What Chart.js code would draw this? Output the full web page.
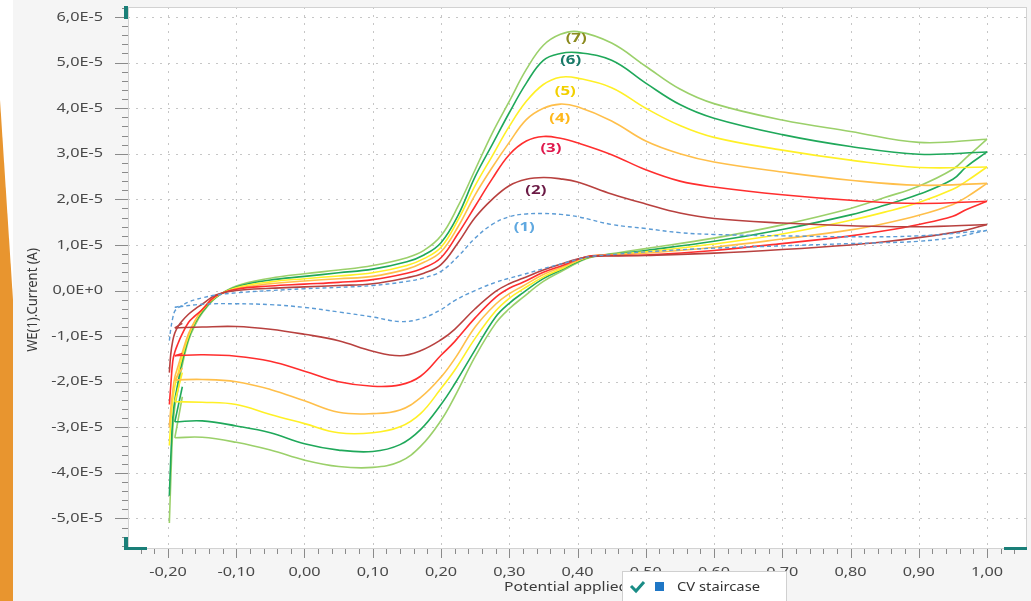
<!DOCTYPE html>
<html>
<head>
<meta charset="utf-8">
<title>CV staircase</title>
<script src="https://cdn.jsdelivr.net/npm/chart.js@4.4.0/dist/chart.umd.min.js"></script>
<style>
  html, body { margin: 0; padding: 0; background: #f5f5f5; }
  #wrap { position: relative; width: 1031px; height: 601px; }
</style>
</head>
<body>
<div id="wrap"><canvas id="cv" width="1031" height="601"></canvas></div>
<script>
// potential (V) on the forward scan, shared by all 7 curves
const fwdX = [-0.198, -0.196, -0.193, -0.19, -0.185, -0.18, -0.17, -0.16, -0.15, -0.13, -0.1, -0.05, 0, 0.05, 0.1, 0.15, 0.175, 0.2, 0.225, 0.25, 0.275, 0.3, 0.325, 0.35, 0.375, 0.4, 0.45, 0.5, 0.55, 0.6, 0.7, 0.8, 0.9, 1.0];
// current in units of 1E-5 A
const fwd1 = [-1.1, -0.85, -0.6, -0.45, -0.38, -0.33, -0.25, -0.2, -0.16, -0.1, -0.05, 0.0, 0.04, 0.07, 0.11, 0.2, 0.28, 0.42, 0.75, 1.15, 1.45, 1.62, 1.68, 1.69, 1.67, 1.62, 1.45, 1.36, 1.27, 1.23, 1.2, 1.18, 1.2, 1.32];
const fwd2 = [-1.8, -1.4, -1.1, -0.93, -0.78, -0.68, -0.52, -0.4, -0.3, -0.1, 0.0, 0.05, 0.08, 0.11, 0.15, 0.28, 0.38, 0.57, 1.05, 1.6, 2.0, 2.3, 2.44, 2.48, 2.45, 2.38, 2.12, 1.9, 1.7, 1.58, 1.48, 1.42, 1.4, 1.45];
const fwd3 = [-2.5, -2.1, -1.55, -1.35, -1.15, -0.98, -0.7, -0.55, -0.42, -0.12, 0.03, 0.1, 0.14, 0.18, 0.24, 0.38, 0.5, 0.72, 1.25, 1.85, 2.45, 2.98, 3.28, 3.38, 3.34, 3.24, 2.98, 2.65, 2.4, 2.27, 2.1, 1.98, 1.91, 1.96];
const fwd4 = [-3.0, -2.6, -2.2, -1.9, -1.65, -1.4, -0.95, -0.65, -0.42, -0.13, 0.04, 0.15, 0.21, 0.26, 0.31, 0.47, 0.62, 0.85, 1.4, 2.1, 2.7, 3.25, 3.75, 4.0, 4.09, 4.03, 3.72, 3.28, 3.0, 2.82, 2.6, 2.42, 2.31, 2.35];
const fwd5 = [-3.4, -2.9, -2.4, -2.1, -1.8, -1.5, -1.0, -0.67, -0.44, -0.14, 0.06, 0.19, 0.26, 0.32, 0.39, 0.55, 0.7, 0.95, 1.55, 2.3, 2.95, 3.6, 4.15, 4.52, 4.68, 4.66, 4.45, 4.0, 3.62, 3.36, 3.08, 2.86, 2.7, 2.71];
const fwd6 = [-4.5, -3.7, -2.8, -2.4, -2.0, -1.6, -1.05, -0.7, -0.47, -0.15, 0.08, 0.23, 0.31, 0.39, 0.47, 0.63, 0.78, 1.05, 1.65, 2.5, 3.2, 3.9, 4.55, 5.05, 5.2, 5.22, 5.05, 4.55, 4.08, 3.78, 3.42, 3.16, 2.99, 3.04];
const fwd7 = [-5.1, -4.2, -3.05, -2.55, -2.15, -1.7, -1.1, -0.75, -0.5, -0.16, 0.1, 0.27, 0.37, 0.45, 0.55, 0.72, 0.88, 1.2, 1.85, 2.65, 3.45, 4.15, 4.85, 5.38, 5.62, 5.68, 5.43, 4.92, 4.42, 4.1, 3.74, 3.49, 3.25, 3.32];

// potential (V) on the reverse scan
const revX = [1.0, 0.97, 0.95, 0.9, 0.85, 0.8, 0.7, 0.6, 0.5, 0.46, 0.42, 0.4, 0.38, 0.35, 0.32, 0.3, 0.28, 0.25, 0.22, 0.2, 0.17, 0.14, 0.1, 0.05, 0, -0.05, -0.1, -0.15, -0.19];
const rev1 = [1.32, 1.22, 1.16, 1.08, 1.05, 1.03, 0.98, 0.93, 0.85, 0.8, 0.75, 0.68, 0.6, 0.48, 0.35, 0.27, 0.18, 0.0, -0.22, -0.42, -0.62, -0.68, -0.58, -0.47, -0.37, -0.31, -0.29, -0.3, -0.37];
const rev2 = [1.45, 1.33, 1.27, 1.16, 1.07, 1.0, 0.9, 0.82, 0.77, 0.76, 0.75, 0.69, 0.6, 0.45, 0.27, 0.15, -0.02, -0.4, -0.85, -1.08, -1.32, -1.43, -1.33, -1.1, -0.96, -0.85, -0.79, -0.8, -0.82];
const rev3 = [1.96, 1.78, 1.63, 1.45, 1.31, 1.2, 1.03, 0.88, 0.78, 0.77, 0.76, 0.68, 0.56, 0.4, 0.18, 0.05, -0.15, -0.6, -1.12, -1.42, -1.88, -2.07, -2.1, -2.0, -1.77, -1.55, -1.44, -1.41, -1.43];
const rev4 = [2.35, 2.05, 1.89, 1.65, 1.47, 1.33, 1.13, 0.95, 0.82, 0.79, 0.76, 0.66, 0.53, 0.35, 0.1, -0.07, -0.3, -0.8, -1.5, -1.9, -2.35, -2.62, -2.7, -2.67, -2.42, -2.17, -2.0, -1.95, -1.96];
const rev5 = [2.71, 2.4, 2.22, 1.93, 1.72, 1.54, 1.24, 1.02, 0.85, 0.8, 0.75, 0.65, 0.5, 0.3, 0.03, -0.17, -0.45, -1.05, -1.75, -2.15, -2.7, -2.99, -3.12, -3.12, -2.92, -2.72, -2.5, -2.45, -2.44];
const rev6 = [3.04, 2.72, 2.44, 2.11, 1.87, 1.66, 1.34, 1.08, 0.88, 0.81, 0.74, 0.63, 0.48, 0.26, -0.05, -0.28, -0.58, -1.3, -2.05, -2.5, -3.05, -3.38, -3.53, -3.5, -3.36, -3.12, -2.97, -2.86, -2.88];
const rev7 = [3.32, 2.92, 2.66, 2.29, 2.04, 1.8, 1.44, 1.15, 0.92, 0.83, 0.73, 0.61, 0.45, 0.2, -0.15, -0.4, -0.72, -1.45, -2.33, -2.85, -3.42, -3.75, -3.88, -3.86, -3.72, -3.5, -3.33, -3.22, -3.23];

// short end piece after the reverse scan
const hookX = [-0.19, -0.179];
const hookEnd = [-0.33, -0.72, -1.38, -1.7, -1.8, -2.11, -2.33];

const curveLabels = ['(1)', '(2)', '(3)', '(4)', '(5)', '(6)', '(7)'];
const labelX = [0.322, 0.339, 0.361, 0.374, 0.382, 0.39, 0.398];
const labelY = [1.38, 2.2, 3.12, 3.78, 4.37, 5.05, 5.52];

const X_MIN = -0.2586, X_MAX = 1.0586;
const Y_MIN = -5.648, Y_MAX = 6.22;

const lineColors = ['#5b9bd5', '#b8413f', '#ff2e2e', '#ffbf4a', '#fff026', '#1fa85a', '#9bd06a'];
const labelColors = ['#5fa8e0', '#6b1a45', '#e0184c', '#ffb81c', '#f2d000', '#187a68', '#8b8a1e'];

const fwd = [fwd1, fwd2, fwd3, fwd4, fwd5, fwd6, fwd7];
const rev = [rev1, rev2, rev3, rev4, rev5, rev6, rev7];

function pts(xs, ys) {
    return xs.map((x, i) => ({ x: x, y: ys[i] }));
}

const datasets = [];
for (let i = 0; i < 7; i++) {
    const style = {
        showLine: true,
        borderColor: lineColors[i],
        borderWidth: i === 0 ? 1.4 : 1.6,
        borderDash: i === 0 ? [4, 3] : [],
        pointRadius: 0,
        tension: 0.4,
        fill: false
    };
    datasets.push(Object.assign({ data: pts(fwdX, fwd[i]) }, style));
    datasets.push(Object.assign({ data: pts(revX, rev[i]) }, style));
    datasets.push(Object.assign({ data: pts(hookX, [rev[i][rev[i].length - 1], hookEnd[i]]) }, style, { tension: 0 }));
}

const fmtX = v => Math.abs(v) < 1e-9 ? '0,00' : v.toFixed(2).replace('.', ',');
const fmtY = v => Math.abs(v) < 1e-9 ? '0,0E+0' : v.toFixed(1).replace('.', ',') + 'E-5';

// texte étiré horizontalement comme sur la capture
function wideText(c, text, x, y, sx) {
    c.save();
    c.translate(x, y);
    c.scale(sx, 1);
    c.fillText(text, 0, 0);
    c.restore();
}

// fond, zone blanche, grille pointillée
const frame = {
    id: 'frame',
    beforeDraw(chart) {
        const c = chart.ctx, a = chart.chartArea;
        const xs = chart.scales.x, ys = chart.scales.y;
        c.save();
        c.fillStyle = '#f5f5f5';
        c.fillRect(0, 0, chart.width, chart.height);
        c.fillStyle = '#ffffff';
        c.fillRect(0, 0, 13, chart.height);
        c.fillStyle = '#e8952f';
        c.beginPath();
        c.moveTo(0, 100);
        c.lineTo(13, 300);
        c.lineTo(13, chart.height);
        c.lineTo(0, chart.height);
        c.closePath();
        c.fill();
        c.fillStyle = '#ffffff';
        c.fillRect(a.left, a.top, a.right - a.left, a.bottom - a.top);

        c.strokeStyle = '#c6c6c6';
        c.lineWidth = 1;
        c.setLineDash([2, 6]);
        xs.ticks.forEach(t => {
            const px = Math.round(xs.getPixelForValue(t.value)) + 0.5;
            c.beginPath(); c.moveTo(px, a.top); c.lineTo(px, a.bottom); c.stroke();
        });
        ys.ticks.forEach(t => {
            const py = Math.round(ys.getPixelForValue(t.value)) + 0.5;
            c.beginPath(); c.moveTo(a.left, py); c.lineTo(a.right, py); c.stroke();
        });
        c.setLineDash([]);
        c.strokeStyle = '#d2d2d2';
        c.strokeRect(a.left + 0.5, a.top + 0.5, a.right - a.left - 1, a.bottom - a.top);

        // libellés des graduations
        c.fillStyle = '#4a4a4a';
        c.font = '12.5px "Noto Sans"';
        c.textBaseline = 'middle';
        c.textAlign = 'right';
        ys.ticks.forEach(t => wideText(c, fmtY(t.value), 103, ys.getPixelForValue(t.value), 1.3));
        c.textAlign = 'center';
        xs.ticks.forEach(t => wideText(c, fmtX(t.value), xs.getPixelForValue(t.value), a.bottom + 24, 1.3));
        c.restore();
    },
    afterDraw(chart) {
        const c = chart.ctx, a = chart.chartArea;
        const xs = chart.scales.x, ys = chart.scales.y;
        c.save();
        // graduations
        c.strokeStyle = '#8a8a8a';
        c.lineWidth = 1;
        for (let k = Math.ceil(Y_MIN / 0.2); k <= Math.floor(Y_MAX / 0.2); k++) {
            const py = Math.round(ys.getPixelForValue(k * 0.2)) + 0.5;
            const len = k % 5 === 0 ? 13 : 6;
            c.beginPath(); c.moveTo(a.left - len, py); c.lineTo(a.left, py); c.stroke();
        }
        for (let k = Math.ceil(X_MIN / 0.02); k <= Math.floor(X_MAX / 0.02); k++) {
            const px = Math.round(xs.getPixelForValue(k * 0.02)) + 0.5;
            const len = k % 5 === 0 ? 9 : 5;
            c.beginPath(); c.moveTo(px, a.bottom + 1); c.lineTo(px, a.bottom + 1 + len); c.stroke();
        }
        // poignées turquoise
        c.fillStyle = '#1a7f78';
        c.fillRect(a.left - 4, a.top - 1, 4, 13);
        c.fillRect(a.left - 4, a.bottom - 11, 4, 13);
        c.fillRect(a.left - 4, a.bottom - 1, 23, 3);
        c.fillRect(a.right - 23, a.bottom - 1, 23, 3);

        // titres des axes
        c.fillStyle = '#3a3a3a';
        c.textAlign = 'center';
        c.textBaseline = 'middle';
        c.font = '13px "Noto Sans"';
        c.save();
        c.translate(33, 300);
        c.rotate(-Math.PI / 2);
        c.scale(1, 1.1);
        c.fillText('WE(1).Current (A)', 0, 0);
        c.restore();
        c.font = '12.5px "Noto Sans"';
        wideText(c, 'Potential applied (V)', (a.left + a.right) / 2, 587, 1.25);

        // étiquettes des courbes
        c.font = 'bold 12px "Noto Sans"';
        curveLabels.forEach((t, i) => {
            c.fillStyle = labelColors[i];
            wideText(c, t, xs.getPixelForValue(labelX[i]), ys.getPixelForValue(labelY[i]), 1.4);
        });

        // légende
        c.fillStyle = '#ffffff';
        c.fillRect(622, 571, 165, 32);
        c.strokeStyle = '#d0d0d0';
        c.strokeRect(622.5, 571.5, 164, 32);
        c.strokeStyle = '#1a8c86';
        c.lineWidth = 3;
        c.beginPath(); c.moveTo(631, 586); c.lineTo(636, 591); c.lineTo(644, 582); c.stroke();
        c.fillStyle = '#1f77c6';
        c.fillRect(655, 582, 9, 9);
        c.fillStyle = '#333333';
        c.textAlign = 'left';
        c.font = '12.5px "Noto Sans"';
        wideText(c, 'CV staircase', 677, 587, 1.18);
        c.restore();
    }
};

new Chart(document.getElementById('cv'), {
    type: 'scatter',
    data: { datasets: datasets },
    options: {
        responsive: false,
        animation: false,
        layout: { padding: { left: 13, top: 7, right: 4, bottom: 0 } },
        plugins: { legend: { display: false }, tooltip: { enabled: false } },
        scales: {
            x: {
                type: 'linear',
                min: X_MIN,
                max: X_MAX,
                afterFit(s) { s.height = 53; s.paddingLeft = 0; s.paddingRight = 0; },
                grid: { display: false, drawTicks: false },
                border: { display: false },
                ticks: { display: false, stepSize: 0.1, includeBounds: false, autoSkip: false }
            },
            y: {
                type: 'linear',
                min: Y_MIN,
                max: Y_MAX,
                afterFit(s) { s.width = 115; s.paddingTop = 0; s.paddingBottom = 0; },
                grid: { display: false, drawTicks: false },
                border: { display: false },
                ticks: { display: false, stepSize: 1, includeBounds: false, autoSkip: false }
            }
        }
    },
    plugins: [frame]
});
</script>
</body>
</html>
